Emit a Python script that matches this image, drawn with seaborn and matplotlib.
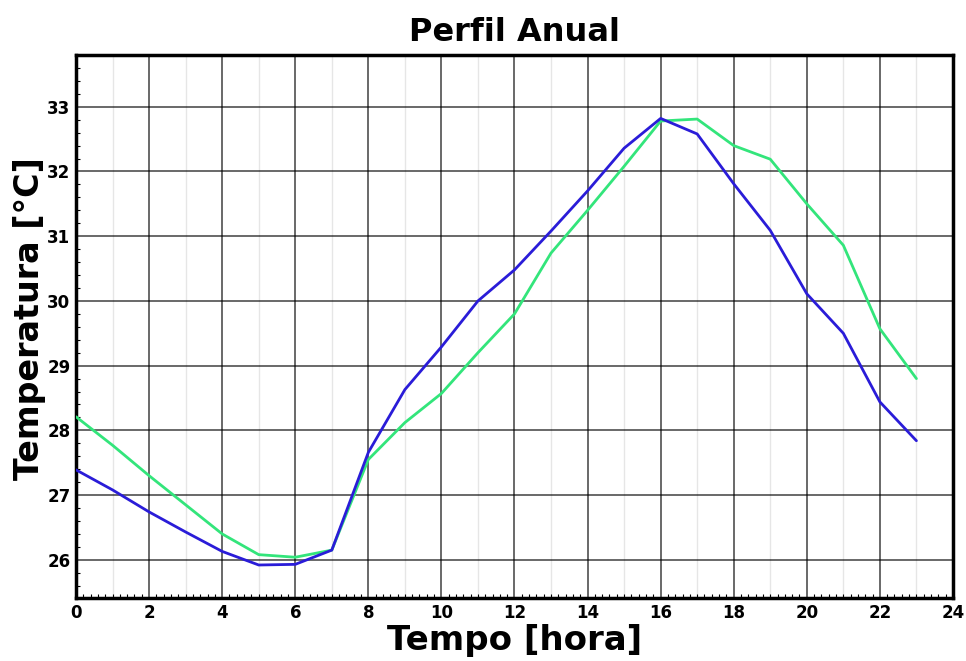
import numpy as np
import pandas as pd
import matplotlib
matplotlib.use("Agg")
import matplotlib.pyplot as plt
import seaborn as sns
from matplotlib.ticker import MultipleLocator

hours = list(range(24))
serie_azul = [27.39, 27.08, 26.74, 26.43, 26.13, 25.92, 25.93, 26.15, 27.66, 28.63,
              29.29, 30.00, 30.48, 31.08, 31.70, 32.36, 32.82, 32.58, 31.81, 31.09,
              30.11, 29.50, 28.44, 27.84]
serie_verde = [28.21, 27.77, 27.30, 26.85, 26.40, 26.08, 26.04, 26.15, 27.55, 28.12,
               28.57, 29.20, 29.80, 30.74, 31.40, 32.08, 32.78, 32.81, 32.40, 32.19,
               31.50, 30.86, 29.57, 28.80]
x_ticks = [0, 2, 4, 6, 8, 10, 12, 14, 16, 18, 20, 22, 24]
y_ticks = [26, 27, 28, 29, 30, 31, 32, 33]

sns.set_style("white")
plt.rcParams['font.family'] = ['DejaVu Sans']
plt.rcParams['text.color'] = 'black'
plt.rcParams['axes.labelcolor'] = 'black'
plt.rcParams['xtick.color'] = 'black'
plt.rcParams['ytick.color'] = 'black'

df = pd.DataFrame({"hora": hours * 2,
                   "temp": serie_verde + serie_azul,
                   "serie": ["verde"] * 24 + ["azul"] * 24})

fig = plt.figure(figsize=(9.66, 6.61), dpi=100)
ax = fig.add_axes([0.0787, 0.0953, 0.9078, 0.8215])

sns.lineplot(data=df, x="hora", y="temp", hue="serie",
             palette={"verde": "#33e57b", "azul": "#2a1cd8"},
             linewidth=2.0, legend=False, ax=ax, zorder=3)

ax.set_xlim(0, 24)
ax.set_ylim(25.41, 33.80)
ax.set_xticks(x_ticks)
ax.set_yticks(y_ticks)
ax.xaxis.set_minor_locator(MultipleLocator(0.2))
ax.yaxis.set_minor_locator(MultipleLocator(0.2))

# grid
ax.grid(which="major", color="black", linewidth=1.1, alpha=0.75, zorder=1)
for h in range(1, 24, 2):
    ax.axvline(h, color="#e6e6e6", linewidth=1.0, zorder=0)

ax.tick_params(which="major", length=0, labelsize=12, pad=4, colors="black")
ax.tick_params(which="minor", direction="in", length=3, width=0.8, color="black",
               bottom=True, left=True)
for lab in ax.get_xticklabels() + ax.get_yticklabels():
    lab.set_fontweight("bold")

for s in ax.spines.values():
    s.set_visible(True)
    s.set_color("black")
    s.set_linewidth(2.5)

ax.set_xlabel("Tempo [hora]", fontsize=24.5, fontweight="bold", labelpad=2, color="black")
ax.set_ylabel("Temperatura [°C]", fontsize=24, fontweight="bold", color="black")
ax.yaxis.set_label_coords(-0.034, 0.515)
ax.set_title("Perfil Anual", fontsize=23, fontweight="bold", pad=10, color="black")

fig.savefig("out.png", dpi=100)
